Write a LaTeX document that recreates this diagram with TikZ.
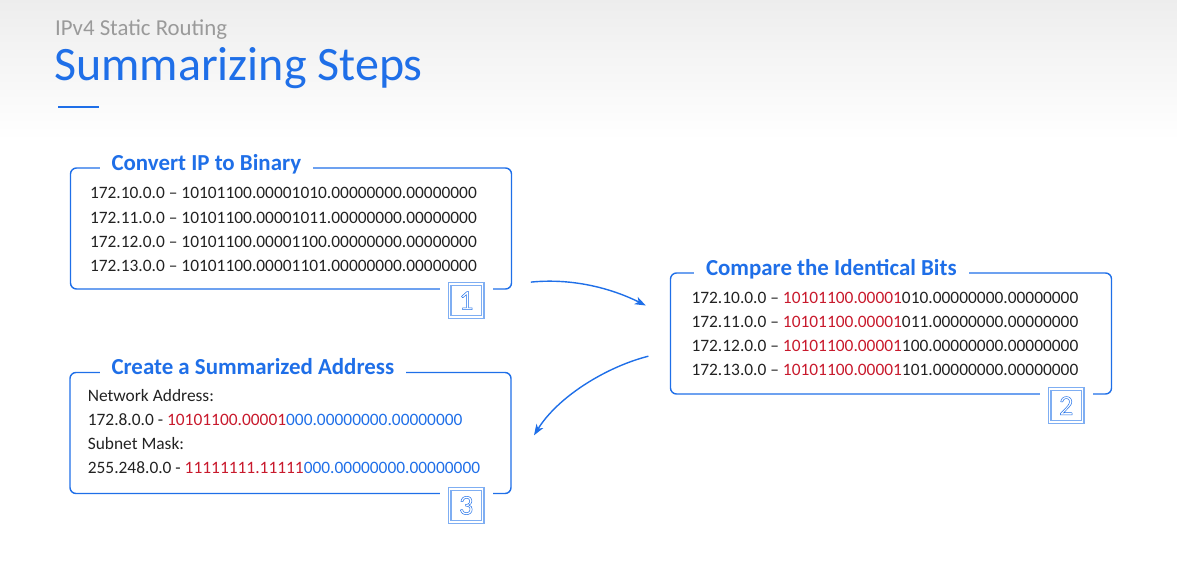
\documentclass[tikz,border=0pt]{standalone}
\usepackage{fontspec}
\setmainfont{Carlito}
\usetikzlibrary{arrows.meta,positioning}

\definecolor{stepblue}{HTML}{1F6FE8}
\definecolor{bitred}{HTML}{C8192C}
\definecolor{headgray}{HTML}{9A9A9A}
\definecolor{badgeblue}{HTML}{7FAEF2}
\definecolor{bodyblack}{HTML}{222222}

\newcommand{\same}[1]{\textcolor{bitred}{#1}}
\newcommand{\rest}[1]{\textcolor{stepblue}{#1}}
\newcommand{\hollow}[1]{\special{pdf:literal direct 1 Tr 0.5 w}#1\special{pdf:literal direct 0 Tr}}

\begin{document}
\begin{tikzpicture}
[
    x=1pt, y=-1pt,
    stepframe/.style={draw=stepblue, line width=1.4pt, rounded corners=6pt,
        minimum width=441pt, minimum height=121pt, inner sep=0pt},
    steptitle/.style={fill=white, text=stepblue, inner xsep=12pt, inner ysep=2pt,
        font=\fontsize{22.9}{26}\selectfont\bfseries, anchor=base west},
    steplines/.style={align=left, inner sep=0pt, text=bodyblack, anchor=north west,
        font=\fontsize{17.4}{24.2}\selectfont},
    stepbadge/.style={draw=badgeblue, line width=1.3pt, double=white, double distance=1.5pt,
        fill=white, minimum size=33pt, inner sep=0pt, text=stepblue,
        font=\fontsize{28}{28}\selectfont,
        preaction={draw=white, double=white, line width=10pt, double distance=0pt}},
    flow/.style={draw=stepblue, line width=1.4pt,
        -{Stealth[length=11pt, width=8pt, inset=3pt]}},
]
\useasboundingbox (0,0) rectangle (1177,586);
\shade[top color=black!7, bottom color=white] (0,0) rectangle (1177,140);

% heading
\node [anchor=base west, inner sep=0pt, text=headgray, font=\fontsize{22.8}{22.8}\selectfont]
    (chapter) at (55,36) {IPv4 Static Routing};
\node [anchor=base west, inner sep=0pt, text=stepblue, font=\fontsize{48}{48}\selectfont]
    (heading) at (54,81) {Summarizing Steps};
\draw [stepblue, line width=2pt] (58,106.5) -- (99,106.5);

% step 1
\node [stepframe] (conv) at (291,228.5) {};
\node [steptitle] (convtitle) at ([shift={(29.5,2.8)}]conv.north west) {Convert IP to Binary};
\node [steplines] (convlines) at ([shift={(20,20.2)}]conv.north west)
{172.10.0.0 -- 10101100.00001010.00000000.00000000\\
 172.11.0.0 -- 10101100.00001011.00000000.00000000\\
 172.12.0.0 -- 10101100.00001100.00000000.00000000\\
 172.13.0.0 -- 10101100.00001101.00000000.00000000};
\node [stepbadge] (convbadge) at ([shift={(-46,11)}]conv.south east) {\hollow{1}};

% step 2
\node [stepframe] (comp) at (891,333.5) {};
\node [steptitle] (comptitle) at ([shift={(24,2.8)}]comp.north west) {Compare the Identical Bits};
\node [steplines] (complines) at ([shift={(21.5,19.5)}]comp.north west)
{172.10.0.0 -- \same{10101100.00001}010.00000000.00000000\\
 172.11.0.0 -- \same{10101100.00001}011.00000000.00000000\\
 172.12.0.0 -- \same{10101100.00001}100.00000000.00000000\\
 172.13.0.0 -- \same{10101100.00001}101.00000000.00000000};
\node [stepbadge] (compbadge) at ([shift={(-46,11)}]comp.south east) {\hollow{2}};

% step 3
\node [stepframe] (summ) at (290.5,433) {};
\node [steptitle] (summtitle) at ([shift={(30,2.8)}]summ.north west) {Create a Summarized Address};
\node [steplines] (summlines) at ([shift={(18.3,17)}]summ.north west)
{Network Address:\\
 172.8.0.0 - \same{10101100.00001}\rest{000.00000000.00000000}\\
 Subnet Mask:\\
 255.248.0.0 - \same{11111111.11111}\rest{000.00000000.00000000}};
\node [stepbadge] (summbadge) at ([shift={(-45.5,11.3)}]summ.south east) {\hollow{3}};

% connectors
\coordinate (convout) at ([shift={(18.7,-7.6)}]conv.south east);
\coordinate (compin) at ([shift={(-24,-28)}]comp.west);
\coordinate (compout) at ([shift={(-21.4,22.7)}]comp.west);
\coordinate (summin) at ([shift={(22.3,2.3)}]summ.east);
\draw [flow] (convout) .. controls +(40,-4) and +(-36,-18) .. (compin);
\draw [flow] (compout) .. controls +(-40,10) and +(25,-40) .. (summin);
\end{tikzpicture}
\end{document}
